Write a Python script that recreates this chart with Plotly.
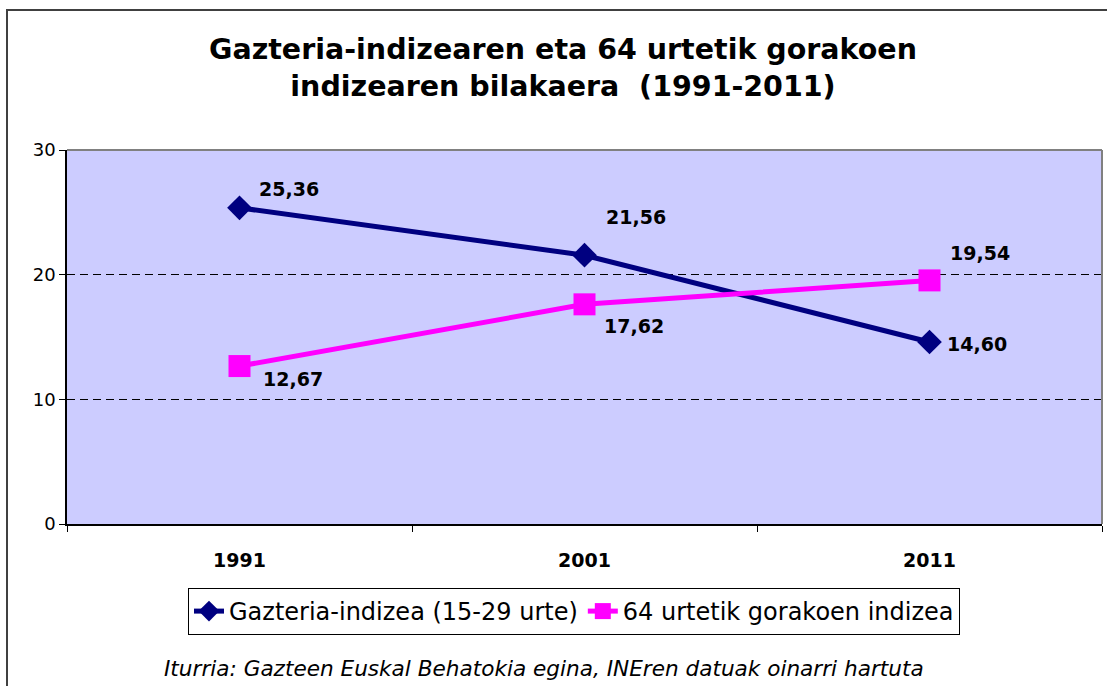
import plotly.graph_objects as go

years = ["1991", "2001", "2011"]
gazteria = [25.36, 21.56, 14.60]
zaharrak = [12.67, 17.62, 19.54]
name_g = "Gazteria-indizea (15-29 urte)"
name_z = "64 urtetik gorakoen indizea"
title = "<b>Gazteria-indizearen eta 64 urtetik gorakoen<br>indizearen bilakaera  (1991-2011)</b>"
source = "Iturria: Gazteen Euskal Behatokia egina, INEren datuak oinarri hartuta"

# label offsets (px) per point
off_g = [(49, 19), (51, 38), (47, -2)]
off_z = [(53, -13), (49, -22), (50, 27)]

NAVY = "#000080"
MAG = "#FF00FF"

fig = go.Figure()
fig.add_trace(go.Scatter(x=years, y=gazteria, name=name_g, mode="lines+markers",
                         line=dict(color=NAVY, width=5),
                         marker=dict(symbol="diamond", size=19, color=NAVY)))
fig.add_trace(go.Scatter(x=years, y=zaharrak, name=name_z, mode="lines+markers",
                         line=dict(color=MAG, width=5),
                         marker=dict(symbol="square", size=22, color=MAG)))

lab_font = dict(family="DejaVu Sans", size=19, color="black", weight="bold")
for vals, offs in ((gazteria, off_g), (zaharrak, off_z)):
    for i, (v, (dx, dy)) in enumerate(zip(vals, offs)):
        fig.add_annotation(x=i, y=v, text=f"{v:.2f}".replace(".", ","),
                           showarrow=False, xshift=dx, yshift=dy, font=lab_font)

L, R, T, B = 67, 5, 150, 162
W, H = 1107, 686
pw, ph = W - L - R, H - T - B
def px(x):
    return (x - L) / pw
def py(y):
    return (H - B - y) / ph

# outer border
fig.add_shape(type="rect", xref="paper", yref="paper", x0=px(7), x1=px(1115), y0=py(700), y1=py(10),
              line=dict(color="#404040", width=2), layer="above")
# plot area top & right border
fig.add_shape(type="line", xref="paper", yref="paper", x0=0, x1=1, y0=1, y1=1,
              line=dict(color="#808080", width=2), layer="above")
fig.add_shape(type="line", xref="paper", yref="paper", x0=1, x1=1, y0=0, y1=1,
              line=dict(color="#808080", width=2), layer="above")

fig.add_annotation(xref="paper", yref="paper", x=px(162), y=py(668), xanchor="left", yanchor="middle",
                   text="<i>" + source + "</i>", showarrow=False,
                   font=dict(family="DejaVu Sans", size=21.6, color="black"))

fig.update_layout(
    width=W, height=H,
    margin=dict(l=L, r=R, t=T, b=B, autoexpand=False),
    paper_bgcolor="white", plot_bgcolor="#CCCCFF",
    title=dict(text=title, xref="container", x=563 / W, xanchor="center",
               yref="container", y=1 - 59 / H, yanchor="middle",
               font=dict(family="DejaVu Sans", size=28.5, color="black")),
    showlegend=True,
    legend=dict(orientation="h", x=px(574), xanchor="center", y=py(588), yanchor="top",
                bordercolor="black", borderwidth=1, bgcolor="white",
                font=dict(family="DejaVu Sans", size=24, color="black"),
                itemwidth=30, tracegroupgap=0),
    xaxis=dict(type="category", tickson="boundaries", ticks="outside", ticklen=6, tickcolor="black",
               showline=True, linecolor="black", linewidth=1.5, showgrid=False,
               tickfont=dict(family="DejaVu Sans", size=19, color="black", weight="bold"),
               ticklabelstandoff=18, range=[-0.5, 2.5]),
    yaxis=dict(range=[0, 30], tickvals=[0, 10, 20, 30], ticks="outside", ticklen=6, tickcolor="black",
               showline=True, linecolor="black", linewidth=1.5,
               showgrid=True, gridcolor="black", griddash="8px,5px", gridwidth=1,
               zeroline=False,
               tickfont=dict(family="DejaVu Sans", size=18, color="black")),
)

fig.write_html("out.html", config={"displayModeBar": False},
               post_script="document.body.style.margin='0';document.body.style.overflow='hidden';")
